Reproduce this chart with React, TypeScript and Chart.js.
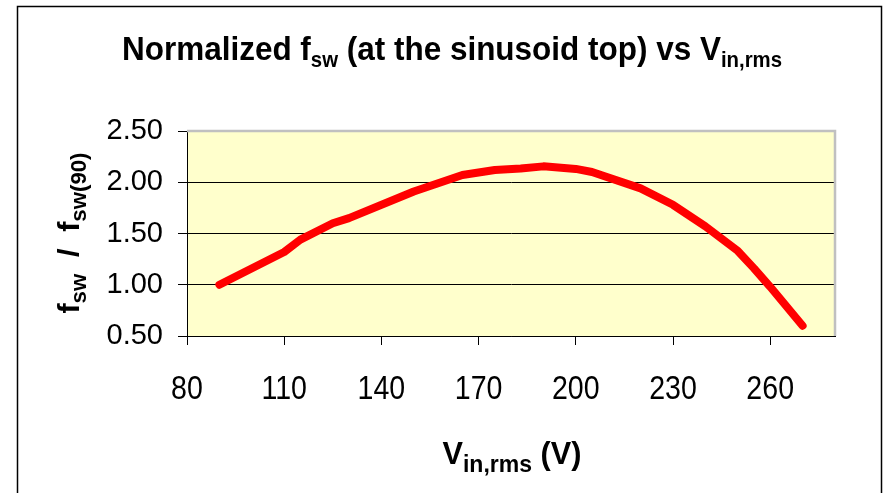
import React, { useEffect, useRef } from "react";
import { Chart, registerables } from "chart.js";

Chart.register(...registerables);

const voltages = [90, 110, 115, 125, 130, 150, 165, 175, 183, 190, 200, 205, 220, 230, 240, 250, 255, 260, 270];
const fswRatio = [1.0, 1.32, 1.44, 1.6, 1.65, 1.91, 2.07, 2.12, 2.135, 2.155, 2.13, 2.1, 1.94, 1.78, 1.57, 1.33, 1.16, 0.98, 0.6];

const xTickValues = [80, 110, 140, 170, 200, 230, 260];
const xMin = 80;
const xMax = 280;
const yMin = 0.5;
const yMax = 2.5;
const yStep = 0.5;

const FAMILY = '"Liberation Sans", Arial, sans-serif';

type Part = { t: string; size: number; dy: number };

function drawRich(
  ctx: CanvasRenderingContext2D,
  parts: Part[],
  cx: number,
  cy: number,
  width: number,
  rotate: boolean,
  weight = "bold"
) {
  ctx.save();
  let total = 0;
  const widths = parts.map((p) => {
    ctx.font = `${weight} ${p.size}px ${FAMILY}`;
    const w = ctx.measureText(p.t).width;
    total += w;
    return w;
  });
  const sx = width / total;
  ctx.translate(cx, cy);
  if (rotate) ctx.rotate(-Math.PI / 2);
  ctx.scale(sx, 1);
  ctx.fillStyle = "#000";
  ctx.textAlign = "left";
  ctx.textBaseline = "alphabetic";
  let x = -total / 2;
  parts.forEach((p, i) => {
    ctx.font = `${weight} ${p.size}px ${FAMILY}`;
    ctx.fillText(p.t, x, p.dy);
    x += widths[i];
  });
  ctx.restore();
}

const decorPlugin = {
  id: "decor",
  beforeDraw(chart: any) {
    const { ctx, chartArea } = chart;
    ctx.save();
    ctx.fillStyle = "#fff";
    ctx.fillRect(0, 0, chart.width, chart.height);
    ctx.fillStyle = "#FFFFCC";
    ctx.fillRect(chartArea.left, chartArea.top, chartArea.right - chartArea.left, chartArea.bottom - chartArea.top);
    ctx.strokeStyle = "#000";
    ctx.lineWidth = 1.5;
    ctx.strokeRect(17.5, 6.5, 864, 520);
    ctx.restore();
  },
  beforeDatasetsDraw(chart: any) {
    const { ctx, chartArea } = chart;
    ctx.save();
    ctx.strokeStyle = "#C0C0C0";
    ctx.lineWidth = 2.5;
    ctx.beginPath();
    ctx.moveTo(chartArea.left, chartArea.top);
    ctx.lineTo(chartArea.right, chartArea.top);
    ctx.lineTo(chartArea.right, chartArea.bottom);
    ctx.stroke();
    ctx.restore();
  },
  afterDraw(chart: any) {
    const ctx = chart.ctx as CanvasRenderingContext2D;
    // X tick labels (condensed, positioned by the x scale)
    const xs = chart.scales.x;
    ctx.save();
    ctx.fillStyle = "#000";
    ctx.font = `34px ${FAMILY}`;
    ctx.textAlign = "center";
    ctx.textBaseline = "alphabetic";
    xs.ticks.forEach((t: any) => {
      const px = xs.getPixelForValue(t.value);
      ctx.save();
      ctx.translate(px, 399);
      ctx.scale(0.84, 1);
      ctx.fillText(String(t.value), 0, 0);
      ctx.restore();
    });
    ctx.restore();
    // Title
    drawRich(
      ctx,
      [
        { t: "Normalized f", size: 34, dy: 0 },
        { t: "sw", size: 22, dy: 7 },
        { t: " (at the sinusoid top) vs V", size: 34, dy: 0 },
        { t: "in,rms", size: 22, dy: 7 },
      ],
      452,
      60,
      660,
      false
    );
    // X axis title
    drawRich(
      ctx,
      [
        { t: "V", size: 32, dy: 0 },
        { t: "in,rms", size: 24, dy: 8 },
        { t: " (V)", size: 32, dy: 0 },
      ],
      512,
      464,
      139,
      false
    );
    // Y axis title
    drawRich(
      ctx,
      [
        { t: "f", size: 30, dy: 0 },
        { t: "sw", size: 22, dy: 7 },
        { t: "  /  f", size: 30, dy: 0 },
        { t: "sw(90)", size: 22, dy: 7 },
      ],
      79,
      233,
      161,
      true
    );
  },
};

export default function App() {
  const ref = useRef<HTMLCanvasElement | null>(null);
  useEffect(() => {
    if (!ref.current) return;
    const chart = new Chart(ref.current, {
      type: "line",
      data: {
        datasets: [
          {
            data: voltages.map((v, i) => ({ x: v, y: fswRatio[i] })),
            borderColor: "#FF0000",
            borderWidth: 8,
            pointRadius: 0,
            tension: 0,
            borderCapStyle: "round",
            borderJoinStyle: "round",
            fill: false,
          },
        ],
      },
      options: {
        responsive: false,
        animation: false,
        layout: { padding: { left: 0, top: 131, right: 57, bottom: 0 } },
        plugins: {
          legend: { display: false },
          title: { display: false },
          tooltip: { enabled: false },
        },
        scales: {
          x: {
            type: "linear",
            min: xMin,
            max: xMax,
            afterFit: (s: any) => {
              s.height = 157;
            },
            afterBuildTicks: (s: any) => {
              s.ticks = xTickValues.map((v) => ({ value: v }));
            },
            ticks: {
              display: false,
            },
            grid: { drawOnChartArea: false, drawTicks: true, tickLength: 9, tickColor: "#000", color: "#000" },
            border: { color: "#000", width: 1 },
          },
          y: {
            min: yMin,
            max: yMax,
            afterFit: (s: any) => {
              s.width = 187;
            },
            ticks: {
              stepSize: yStep,
              color: "#000",
              padding: 15,
              font: { family: FAMILY, size: 29 },
              callback: (v: any) => Number(v).toFixed(2),
            },
            grid: {
              color: (c: any) => (c.tick && c.tick.value === yMax ? "rgba(0,0,0,0)" : "#000"),
              tickColor: "#000",
              tickLength: 9,
              lineWidth: 1,
            },
            border: { color: "#000", width: 1 },
          },
        },
      },
      plugins: [decorPlugin],
    } as any);
    return () => chart.destroy();
  }, []);
  return (
    <div style={{ position: "absolute", left: 0, top: 0, width: 892, height: 493 }}>
      <canvas ref={ref} width={892} height={493} />
    </div>
  );
}
